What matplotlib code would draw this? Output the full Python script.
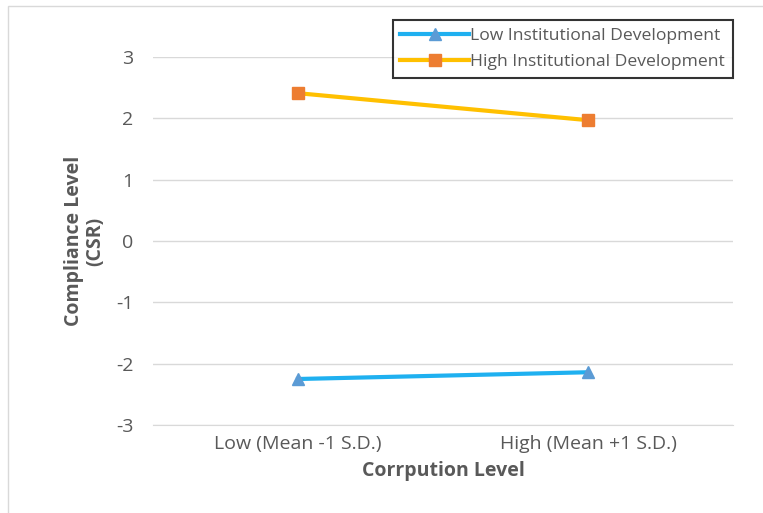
import matplotlib
matplotlib.use('Agg')
import matplotlib.pyplot as plt
from matplotlib.patches import Rectangle

plt.rcParams['font.family'] = ['Open Sans', 'DejaVu Sans']
plt.rcParams['axes.unicode_minus'] = False

categories = ["Low (Mean -1 S.D.)", "High (Mean +1 S.D.)"]
low_inst = [-2.25, -2.14]
high_inst = [2.41, 1.97]
series_names = ["Low Institutional Development", "High Institutional Development"]
y_ticks = [-3, -2, -1, 0, 1, 2, 3]

W, H = 763, 513
fig = plt.figure(figsize=(W / 100, H / 100), dpi=100)
# plot area in pixels: x 153..733, y 57..425
ax = fig.add_axes([153 / W, 1 - 425 / H, 580 / W, 368 / H])

# outer chart border
fig.patches.append(Rectangle((8 / W, -0.1), 1.2, 1 - 6 / H + 0.1, transform=fig.transFigure,
                             fill=False, edgecolor='#d9d9d9', linewidth=1))

fs = 14
x = list(range(len(categories)))
ax.plot(x, low_inst, color='#1fb0f0', linewidth=3, marker='^', markersize=9,
        markerfacecolor='#5b9bd5', markeredgecolor='#5b9bd5', label=series_names[0], zorder=3)
ax.plot(x, high_inst, color='#ffc000', linewidth=3, marker='s', markersize=8,
        markerfacecolor='#ed7d31', markeredgecolor='#ed7d31', label=series_names[1], zorder=3)

ax.set_xlim(-0.5, 1.5)
ax.set_ylim(-3, 3)
ax.set_yticks(y_ticks)
ax.set_xticks(x)
ax.set_xticklabels(categories)
ax.yaxis.grid(True, color='#d9d9d9', linewidth=1)
ax.set_axisbelow(True)
for s in ['top', 'right', 'left']:
    ax.spines[s].set_visible(False)
ax.spines['bottom'].set_color('#d9d9d9')
ax.tick_params(axis='both', length=0, labelsize=fs, colors='#595959', pad=14)
ax.tick_params(axis='x', pad=7)

ax.set_xlabel("Corrpution Level", fontsize=fs, fontweight='bold', color='#595959', labelpad=6)
ax.set_ylabel("Compliance Level\n(CSR)", fontsize=fs, fontweight='bold', color='#595959',
              labelpad=8, linespacing=1.05)

leg = fig.legend(loc='upper right', bbox_to_anchor=(733 / W, 1 - 20 / H), fontsize=12.6,
                 frameon=True, fancybox=False, handlelength=3.9, handletextpad=0.1,
                 borderpad=0.45, labelspacing=0.55, borderaxespad=0)
leg.get_frame().set_edgecolor('black')
leg.get_frame().set_linewidth(1.5)
for t in leg.get_texts():
    t.set_color('#595959')

plt.savefig("out.png", dpi=100)
